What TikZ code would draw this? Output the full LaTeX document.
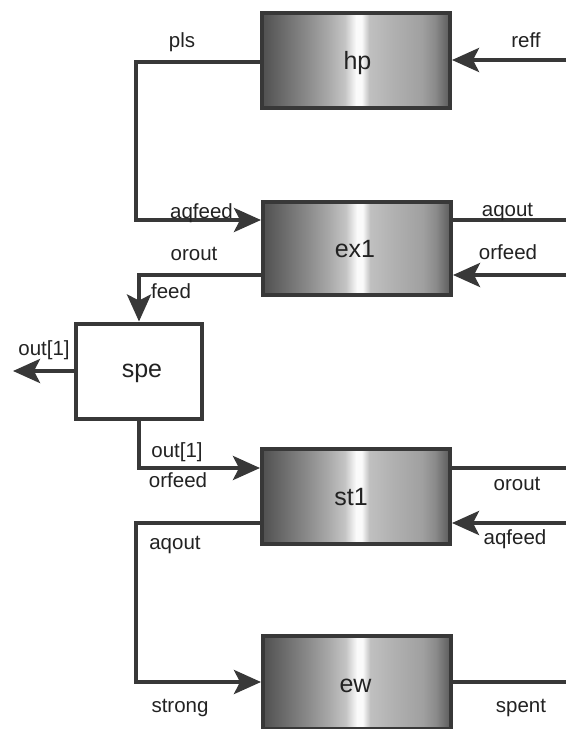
\documentclass[tikz,border=0pt]{standalone}
\usepackage{fontspec}
\setmainfont{Liberation Sans}
\usetikzlibrary{arrows.meta}

\definecolor{ink}{HTML}{383838}
\definecolor{txt}{HTML}{222222}
\definecolor{gA}{HTML}{505050}
\definecolor{gB}{HTML}{888888}
\definecolor{gC}{HTML}{A8A8A8}
\definecolor{gD}{HTML}{C4C4C4}
\definecolor{gE}{HTML}{FAFAFA}
\definecolor{gF}{HTML}{C0C0C0}
\definecolor{gG}{HTML}{B0B0B0}
\definecolor{gH}{HTML}{A0A0A0}
\definecolor{gI}{HTML}{8A8A8A}
\definecolor{gJ}{HTML}{5A5A5A}

% metallic left-to-right shading of the unit blocks
\pgfdeclarehorizontalshading{boxshade}{100bp}{%
  color(0bp)=(gA); color(25bp)=(gA); color(36.5bp)=(gB); color(42.5bp)=(gC);
  color(47bp)=(gD); color(50bp)=(gE); color(51.5bp)=(gE); color(53.5bp)=(gF);
  color(60bp)=(gG); color(67.5bp)=(gH); color(71bp)=(gI); color(75bp)=(gJ);
  color(100bp)=(gJ)}

\begin{document}
\begin{tikzpicture}[x=1pt,y=-1pt,
  conn/.style={draw=ink, line width=4pt},
  arr/.style={conn, -{Stealth[length=27pt,width=24pt,inset=6pt]}},
  unitbox/.style={draw=ink, line width=4pt, shading=boxshade,
    minimum width=188pt, minimum height=93pt, inner sep=0pt},
  splitbox/.style={draw=ink, line width=4pt, fill=white,
    minimum width=126pt, minimum height=95pt, inner sep=0pt},
  blocktitle/.style={font=\fontsize{25}{28}\selectfont, text=txt, inner sep=0pt, anchor=base},
  lbl/.style={font=\fontsize{20.5}{23}\selectfont, text=txt, inner sep=0pt, anchor=base}]

\useasboundingbox (0,0) rectangle (566,729);

% blocks
\node[unitbox, minimum height=95pt] (hp)  at (356,60)  {};
\node[unitbox] (ex1) at (357,248) {};
\node[splitbox] (spe) at (139,371) {};
\node[unitbox, minimum height=95pt] (st1) at (356,496) {};
\node[unitbox] (ew)  at (357,682) {};

% block titles
\node[blocktitle] (thp)  at (357.5,69) {hp};
\node[blocktitle] (tex1) at (355,257)  {ex1};
\node[blocktitle] (tspe) at (142,377)  {spe};
\node[blocktitle] (tst1) at (351,505)  {st1};
\node[blocktitle] (tew)  at (355.5,692) {ew};

% free ends at the edges
\coordinate (reffin)  at (566,60);
\coordinate (aqoutR)  at (566,220);
\coordinate (orfeedR) at (566,275);
\coordinate (outL)    at (13,371);
\coordinate (oroutR)  at (566,468);
\coordinate (aqfeedR) at (566,523);
\coordinate (spentR)  at (566,682);

% connectors
\draw[arr] (reffin) -- (hp.east);
\draw[arr] ([yshift=-2pt]hp.west) -- ++(-124,0) |- ([yshift=28pt]ex1.west);
\draw[conn] ([yshift=28pt]ex1.east) -- (aqoutR);
\draw[arr] (orfeedR) -- ([yshift=-27pt]ex1.east);
\draw[arr] ([yshift=-27pt]ex1.west) -| (spe.north);
\draw[arr] (spe.west) -- (outL);
\draw[arr] (spe.south) |- ([yshift=28pt]st1.west);
\draw[conn] ([yshift=28pt]st1.east) -- (oroutR);
\draw[arr] (aqfeedR) -- ([yshift=-27pt]st1.east);
\draw[arr] ([yshift=-27pt]st1.west) -- ++(-124,0) |- (ew.west);
\draw[conn] (ew.east) -- (spentR);

% port labels
\node[lbl] (lpls)     at (182,47)    {pls};
\node[lbl] (lreff)    at (526,47)    {reff};
\node[lbl] (laqfeed1) at (201.5,218) {aqfeed};
\node[lbl] (laqout1)  at (507.5,216) {aqout};
\node[lbl] (lorout1)  at (194,260)   {orout};
\node[lbl] (lorfeed1) at (508,259)   {orfeed};
\node[lbl] (lfeed)    at (171,298)   {feed};
\node[lbl] (lout1)    at (44,355)    {out[1]};
\node[lbl] (lout2)    at (177,457)   {out[1]};
\node[lbl] (lorfeed2) at (178,487)   {orfeed};
\node[lbl] (lorout2)  at (517,490)   {orout};
\node[lbl] (laqfeed2) at (515,544)   {aqfeed};
\node[lbl] (laqout2)  at (175,549)   {aqout};
\node[lbl] (lstrong)  at (180,712)   {strong};
\node[lbl] (lspent)   at (521,712)   {spent};
\end{tikzpicture}
\end{document}
